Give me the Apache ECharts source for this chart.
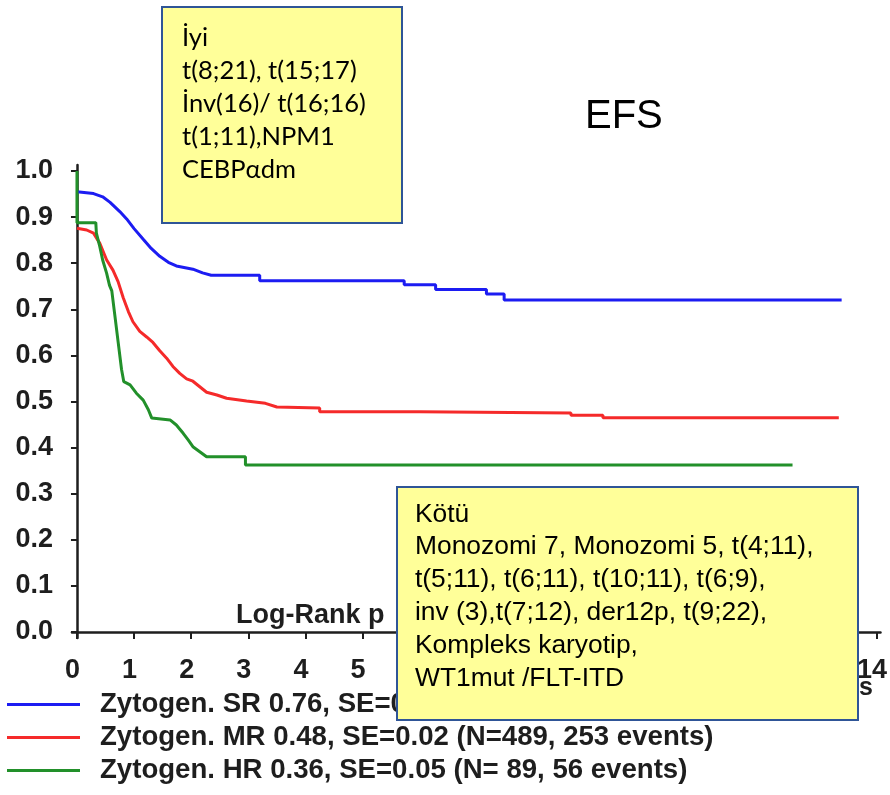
<!DOCTYPE html>
<html>
<head>
<meta charset="utf-8">
<script src="https://cdn.jsdelivr.net/npm/echarts@6/dist/echarts.min.js"></script>
<style>
html,body{margin:0;padding:0;background:#fff;}
#chart{width:890px;height:795px;}
</style>
</head>
<body>
<div id="chart"></div>
<script>
// ---- data ----
var seriesNames = ['Zytogen. SR', 'Zytogen. MR', 'Zytogen. HR'];
var legendLabels = [
  'Zytogen. SR 0.76, SE=0.03 (N=247, 62 events)',
  'Zytogen. MR 0.48, SE=0.02 (N=489, 253 events)',
  'Zytogen. HR 0.36, SE=0.05 (N= 89, 56 events)'
];
var xTicks = [0,1,2,3,4,5,6,7,8,9,10,11,12,13,14];
var yTicks = [0.0,0.1,0.2,0.3,0.4,0.5,0.6,0.7,0.8,0.9,1.0];

var srData = [[0,0.955],[0.29,0.951],[0.45,0.944],[0.58,0.932],[0.75,0.912],[0.87,0.896],[1.0,0.875],[1.16,0.852],[1.3,0.832],[1.45,0.815],[1.6,0.802],[1.74,0.794],[2.03,0.787],[2.2,0.779],[2.35,0.774],[3.2,0.774],[3.2,0.762],[5.73,0.762],[5.73,0.753],[6.28,0.753],[6.28,0.743],[7.17,0.743],[7.17,0.733],[7.48,0.733],[7.48,0.72],[13.39,0.72]];
var mrData = [[0,0.876],[0.17,0.872],[0.29,0.865],[0.4,0.843],[0.52,0.807],[0.63,0.785],[0.72,0.76],[0.81,0.725],[0.9,0.695],[0.98,0.673],[1.1,0.652],[1.22,0.64],[1.33,0.628],[1.45,0.61],[1.57,0.594],[1.68,0.576],[1.8,0.561],[1.92,0.549],[2.03,0.544],[2.15,0.532],[2.27,0.52],[2.45,0.514],[2.62,0.507],[2.97,0.501],[3.3,0.496],[3.5,0.488],[4.25,0.486],[4.25,0.478],[6.0,0.478],[6.0,0.475],[8.65,0.475],[8.65,0.47],[9.21,0.47],[9.21,0.465],[13.34,0.465]];
var hrData = [[0,1.0],[0,0.888],[0.33,0.888],[0.34,0.865],[0.4,0.836],[0.45,0.807],[0.52,0.778],[0.57,0.752],[0.61,0.74],[0.66,0.69],[0.72,0.63],[0.78,0.57],[0.82,0.543],[0.93,0.536],[1.04,0.518],[1.16,0.503],[1.25,0.482],[1.31,0.464],[1.63,0.46],[1.74,0.449],[1.86,0.431],[1.95,0.416],[2.03,0.402],[2.15,0.391],[2.27,0.38],[2.95,0.38],[2.95,0.362],[12.53,0.362]];

var goodBoxLines = ['İyi','t(8;21), t(15;17)','İnv(16)/ t(16;16)','t(1;11),NPM1','CEBPαdm'];
var badBoxLines = ['Kötü','Monozomi 7, Monozomi 5, t(4;11),','t(5;11), t(6;11), t(10;11), t(6;9),','inv (3),t(7;12), der12p, t(9;22),','Kompleks karyotip,','WT1mut /FLT-ITD'];
var panelTitle = 'EFS';
var testLabel = 'Log-Rank p';
var xAxisName = 'Years';

var colors = ['#1c1cf2', '#f52a2a', '#22902a'];
var axisColor = '#1e1e1e';
var boldFamily = '"Liberation Sans", Arial, sans-serif';

var chart = echarts.init(document.getElementById('chart'), null, {renderer: 'canvas'});

function mk(name, data, color) {
  return {
    name: name, type: 'line', data: data, showSymbol: false, symbol: 'none',
    lineStyle: {color: color, width: 3}, itemStyle: {color: color},
    animation: false, z: 3
  };
}

var option = {
  backgroundColor: '#ffffff',
  animation: false,
  grid: {left: 72, right: 8, top: 165, bottom: 157, containLabel: false},
  xAxis: {
    type: 'value', min: -0.087, max: 14.07,
    splitLine: {show: false},
    axisLine: {show: true, lineStyle: {color: axisColor, width: 2.5}},
    axisTick: {show: true, length: 7, lineStyle: {color: axisColor, width: 2}, customValues: xTicks},
    axisLabel: {
      customValues: xTicks, margin: 19, padding: [0, 9, 0, 0],
      fontFamily: boldFamily, fontWeight: 'bold', fontSize: 27, color: '#1e1e1e'
    }
  },
  yAxis: {
    type: 'value', min: -0.013, max: 1.013,
    splitLine: {show: false},
    axisLine: {show: true, lineStyle: {color: axisColor, width: 2.5}},
    axisTick: {show: true, length: 6, lineStyle: {color: axisColor, width: 2}, customValues: yTicks},
    axisLabel: {
      customValues: yTicks, margin: 19,
      formatter: function (v) { return v.toFixed(1); },
      fontFamily: boldFamily, fontWeight: 'bold', fontSize: 27, color: '#1e1e1e'
    }
  },
  legend: {
    orient: 'vertical', left: 7, top: 688, padding: 0, itemGap: 0,
    itemWidth: 73, itemHeight: 3, icon: 'rect',
    data: seriesNames,
    formatter: function (name) { return legendLabels[seriesNames.indexOf(name)]; },
    textStyle: {
      fontFamily: boldFamily, fontWeight: 'bold', fontSize: 27.6,
      color: '#1e1e1e', lineHeight: 23, padding: [10, 0, 0, 15]
    }
  },
  series: [mk(seriesNames[0], srData, colors[0]), mk(seriesNames[1], mrData, colors[1]), mk(seriesNames[2], hrData, colors[2])],
  graphic: [
    {type: 'text', left: 236, top: 602, z: 50, style: {
      text: testLabel, font: 'bold 27px "Liberation Sans", Arial, sans-serif', fill: '#1e1e1e'}},
    {type: 'text', x: 873, y: 688, z: 50, style: {
      text: xAxisName, font: 'bold 25px "Liberation Sans", Arial, sans-serif', fill: '#1e1e1e',
      align: 'right', verticalAlign: 'middle'}},
    {type: 'text', x: 585, y: 117, z: 50, style: {
      text: panelTitle, font: '40px "Liberation Sans", Arial, sans-serif', fill: '#000',
      verticalAlign: 'middle'}},
    {type: 'rect', z: 100, shape: {x: 162, y: 7, width: 240, height: 216},
      style: {fill: '#ffff99', stroke: '#2f5597', lineWidth: 2}},
    {type: 'text', z: 101, x: 182, y: 21, style: {
      text: goodBoxLines.join('\n'), font: '25.5px Lato, "Open Sans", sans-serif', fill: '#000',
      lineHeight: 33, verticalAlign: 'top'}},
    {type: 'rect', z: 100, shape: {x: 397, y: 487, width: 461, height: 233},
      style: {fill: '#ffff99', stroke: '#2f5597', lineWidth: 2}},
    {type: 'text', z: 101, x: 415, y: 498, style: {
      text: badBoxLines.join('\n'), font: '26.4px "Liberation Sans", Arial, sans-serif', fill: '#000',
      lineHeight: 32.8, verticalAlign: 'top'}}
  ]
};
chart.setOption(option);
</script>
</body>
</html>
